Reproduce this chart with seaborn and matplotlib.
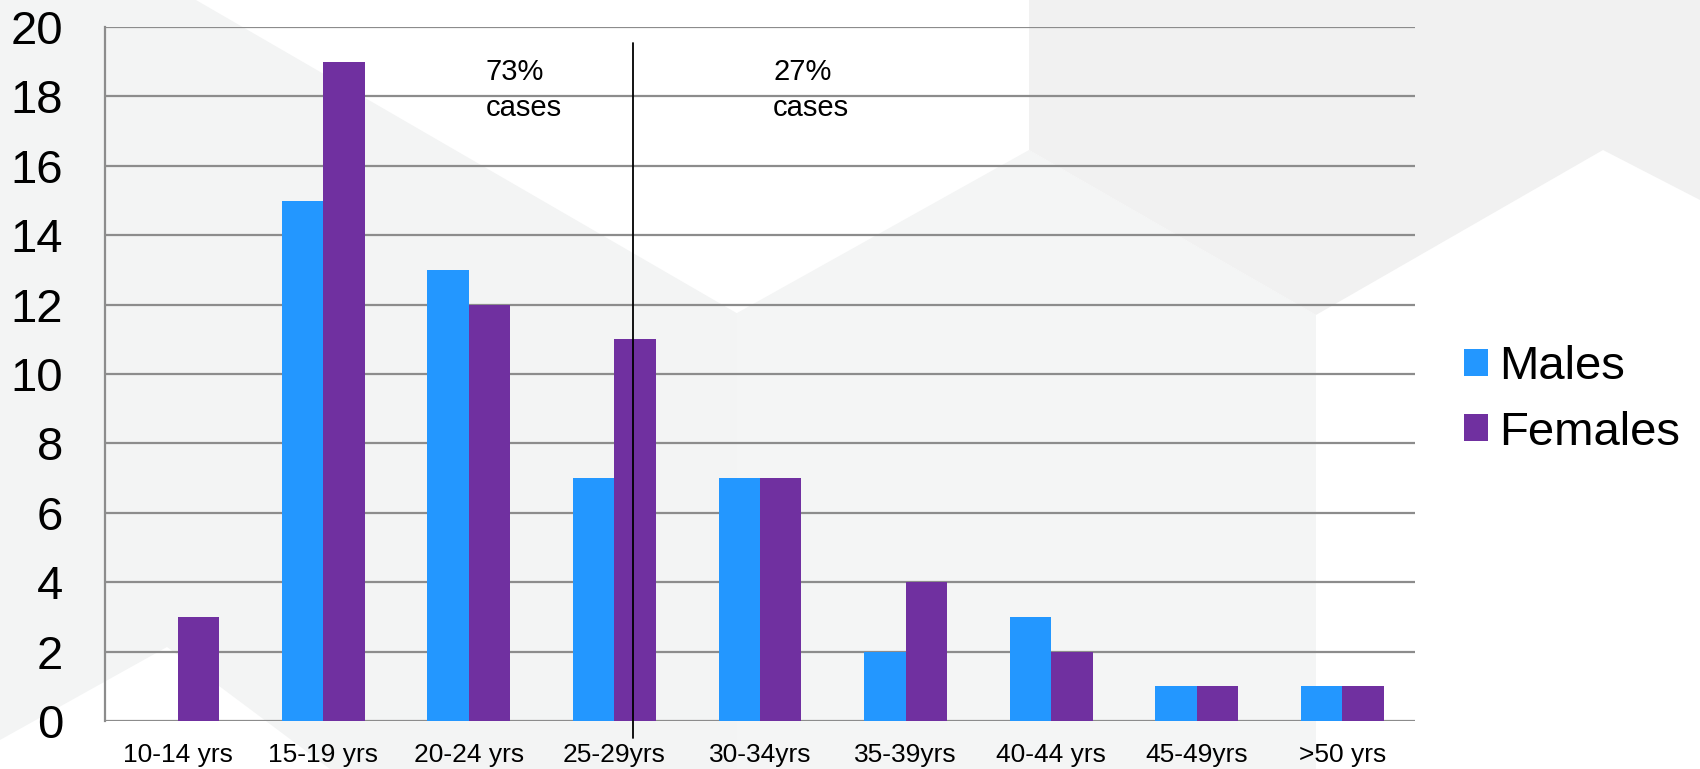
import matplotlib
matplotlib.use("Agg")
import matplotlib.pyplot as plt
import pandas as pd
import seaborn as sns
from matplotlib.patches import Polygon

age_groups = ["10-14 yrs", "15-19 yrs", "20-24 yrs", "25-29yrs", "30-34yrs",
              "35-39yrs", "40-44 yrs", "45-49yrs", ">50 yrs"]
males = [0, 15, 13, 7, 7, 2, 3, 1, 1]
females = [3, 19, 12, 11, 7, 4, 2, 1, 1]
series = ["Males", "Females"]
colors = ["#2397FF", "#7030A0"]
y_ticks = [0, 2, 4, 6, 8, 10, 12, 14, 16, 18, 20]

data = pd.DataFrame({
    "age": age_groups * 2,
    "count": males + females,
    "sex": ["Males"] * len(age_groups) + ["Females"] * len(age_groups),
})

sns.set_style("white")
plt.rcParams["font.family"] = ["Liberation Sans", "DejaVu Sans"]
plt.rcParams["text.color"] = "black"
plt.rcParams["xtick.color"] = "black"
plt.rcParams["ytick.color"] = "black"

fig = plt.figure(figsize=(17, 7.69), dpi=100)

# slide background shapes (pixel coords, y from top)
W, H = 1700, 769
shapes = [
    ([(0, 0), (196, 0), (740, 315), (740, 769), (0, 769)], "#f3f4f4"),
    ([(0, 740), (167, 647), (330, 769), (0, 769)], "#ffffff"),
    ([(737, 313), (1029, 150), (1316, 315), (1316, 769), (737, 769)], "#f4f5f5"),
    ([(1029, 0), (1700, 0), (1700, 200), (1603, 150), (1316, 315), (1029, 150)], "#f1f1f1"),
]
for pts, col in shapes:
    fig.patches.append(Polygon([(x / W, 1 - y / H) for x, y in pts], closed=True,
                               transform=fig.transFigure, facecolor=col,
                               edgecolor="none", zorder=-10))

ax = fig.add_axes([105 / W, 1 - 721 / H, (1415 - 105) / W, (721 - 27) / H])
ax.set_facecolor("none")

sns.barplot(data=data, x="age", y="count", hue="sex", hue_order=series,
            palette=colors, width=0.57, gap=0, linewidth=0, saturation=1,
            ax=ax, zorder=3)

ax.set_ylim(0, 20)
ax.set_xlim(-0.5, len(age_groups) - 0.5)
ax.set_yticks(y_ticks)
ax.yaxis.grid(True, color="#8c8c8c", lw=1.6, zorder=0)
ax.set_axisbelow(True)
ax.set_xlabel("")
ax.set_ylabel("")

for side in ["top", "right", "bottom"]:
    ax.spines[side].set_visible(False)
ax.spines["left"].set_color("#8c8c8c")
ax.spines["left"].set_linewidth(1.6)

ax.tick_params(axis="y", labelsize=34, length=10, width=1.6, color="#8c8c8c", pad=20)
ax.tick_params(axis="x", which="major", labelsize=19, length=0, pad=16)
ax.set_xticks([i - 0.5 for i in range(len(age_groups) + 1)], minor=True)
ax.tick_params(axis="x", which="minor", length=10, width=1.6, color="#8c8c8c")

# divider between 73% and 27%
split_x = 3.126
ax.plot([split_x, split_x], [-0.5, 19.54], color="black", lw=1.3, clip_on=False, zorder=5)
ax.text(2.117, 19.1, "73%\ncases", fontsize=21, va="top", ha="left", linespacing=1.35)
ax.text(4.09, 19.1, "27%\ncases", fontsize=21, va="top", ha="left", linespacing=1.35)

handles, labels = ax.get_legend_handles_labels()
ax.legend(handles, labels, loc="center left", bbox_to_anchor=(1464 / W, 1 - 400 / H),
          bbox_transform=fig.transFigure, frameon=False, fontsize=34,
          handlelength=0.5, handleheight=0.5, handletextpad=0.25, labelspacing=0.45,
          borderpad=0, borderaxespad=0)

fig.savefig("out.png", dpi=100)
